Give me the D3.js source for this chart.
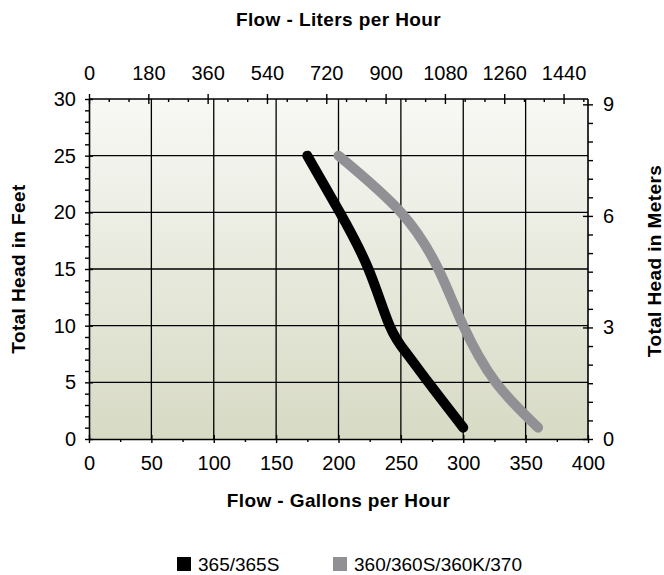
<!DOCTYPE html>
<html>
<head>
<meta charset="utf-8">
<script src="https://cdn.jsdelivr.net/npm/d3@7"></script>
<style>
  body { margin: 0; background: #fff; }
  text { font-family: "Liberation Sans", Arial, Helvetica, sans-serif; }
</style>
</head>
<body>
<div id="chart"></div>
<script>
// pump curves, flow in gallons per hour vs total head in feet
const series365 = [
  { gph: 175, ft: 25 }, { gph: 201, ft: 20 }, { gph: 224, ft: 15 },
  { gph: 241, ft: 10 }, { gph: 255, ft: 7.5 }, { gph: 272, ft: 5 }, { gph: 300, ft: 1 }
];
const series360 = [
  { gph: 200, ft: 25 }, { gph: 250, ft: 20 }, { gph: 280, ft: 15 },
  { gph: 300, ft: 10 }, { gph: 326, ft: 5 }, { gph: 360, ft: 1 }
];
const seriesNames = ["365/365S", "360/360S/360K/370"];
const seriesColors = ["#000000", "#919195"];

const gphTicks = [0, 50, 100, 150, 200, 250, 300, 350, 400];
const feetTicks = [0, 5, 10, 15, 20, 25, 30];
const literTicks = [0, 180, 360, 540, 720, 900, 1080, 1260, 1440];
const meterTicks = [0, 3, 6, 9];

const LITERS_PER_GAL = 3.78541;
const FEET_PER_M = 3.28084;

const W = 664, H = 575;
const margin = { top: 99, left: 89 };
const width = 499, height = 340;

const svg = d3.select("#chart").append("svg")
  .attr("width", W).attr("height", H);

const defs = svg.append("defs");
const grad = defs.append("linearGradient").attr("id", "bg")
  .attr("x1", 0).attr("y1", 0).attr("x2", 0).attr("y2", 1);
grad.append("stop").attr("offset", "0%").attr("stop-color", "#f8f8f5");
grad.append("stop").attr("offset", "100%").attr("stop-color", "#d7dac4");

const g = svg.append("g").attr("transform", `translate(${margin.left},${margin.top})`);

const x = d3.scaleLinear().domain([0, 400]).range([0, width]);
const y = d3.scaleLinear().domain([0, 30]).range([height, 0]);
const xL = d3.scaleLinear().domain([0, 400 * LITERS_PER_GAL]).range([0, width]);
const yM = d3.scaleLinear().domain([0, 30 / FEET_PER_M]).range([height, 0]);

g.append("rect").attr("width", width).attr("height", height).attr("fill", "url(#bg)");

// grid
g.append("g").selectAll("line").data(gphTicks.slice(1, -1)).join("line")
  .attr("x1", d => x(d)).attr("x2", d => x(d)).attr("y1", 0).attr("y2", height)
  .attr("stroke", "#000").attr("stroke-width", 1.3);
g.append("g").selectAll("line").data(feetTicks.slice(1, -1)).join("line")
  .attr("y1", d => y(d)).attr("y2", d => y(d)).attr("x1", 0).attr("x2", width)
  .attr("stroke", "#000").attr("stroke-width", 1.3);

// curves
const line = d3.line().x(d => x(d.gph)).y(d => y(d.ft)).curve(d3.curveNatural);
[series360, series365].forEach((s, i) => {
  g.append("path").datum(s)
    .attr("d", line)
    .attr("fill", "none")
    .attr("stroke", seriesColors[1 - i])
    .attr("stroke-width", 10)
    .attr("stroke-linecap", "round")
    .attr("stroke-linejoin", "round");
});

// axes
function styleAxis(sel, fontSize) {
  sel.select(".domain").attr("stroke", "#000").attr("stroke-width", 1.6);
  sel.selectAll(".tick line").attr("stroke", "#000").attr("stroke-width", 1.4);
  sel.selectAll(".tick text").attr("fill", "#000").style("font-size", fontSize + "px")
    .style("font-family", "Liberation Sans, Arial, sans-serif");
}
const range = (a, b, s) => d3.range(a, b + s / 2, s);

// bottom
g.append("g").attr("transform", `translate(0,${height})`)
  .call(d3.axisBottom(x).tickValues(range(25, 375, 50)).tickSize(3).tickFormat(""))
  .call(s => s.select(".domain").remove())
  .call(s => s.selectAll(".tick line").attr("stroke", "#000").attr("stroke-width", 1.4));
g.append("g").attr("transform", `translate(0,${height})`)
  .call(d3.axisBottom(x).tickValues(gphTicks).tickSize(4).tickSizeOuter(0).tickPadding(13))
  .call(s => styleAxis(s, 20))
  .call(s => s.selectAll(".tick line").attr("y1", -4));

// left
g.append("g")
  .call(d3.axisLeft(y).tickValues(d3.range(1, 30).filter(v => v % 5)).tickSize(4).tickFormat(""))
  .call(s => s.select(".domain").remove())
  .call(s => s.selectAll(".tick line").attr("stroke", "#000").attr("stroke-width", 1.4));
g.append("g")
  .call(d3.axisLeft(y).tickValues(feetTicks).tickSize(4).tickSizeOuter(0).tickPadding(9))
  .call(s => styleAxis(s, 20))
  .call(s => s.selectAll(".tick line").attr("x1", 4));

// top (liters)
g.append("g")
  .call(d3.axisTop(xL).tickValues(range(60, 1500, 60).filter(v => v % 180)).tickSize(-3).tickFormat(""))
  .call(s => s.select(".domain").remove())
  .call(s => s.selectAll(".tick line").attr("stroke", "#000").attr("stroke-width", 1.4));
g.append("g")
  .call(d3.axisTop(xL).tickValues(literTicks).tickFormat(d3.format("d"))
    .tickSize(5).tickSizeOuter(0).tickPadding(14))
  .call(s => styleAxis(s, 20))
  .call(s => s.select(".domain").attr("d", `M0,0H${width}`))
  .call(s => s.selectAll(".tick line").attr("y1", 5));

// right (meters)
g.append("g").attr("transform", `translate(${width},0)`)
  .call(d3.axisRight(yM).tickValues(range(0.5, 9, 0.5).filter(v => v % 3)).tickSize(5).tickFormat(""))
  .call(s => s.select(".domain").remove())
  .call(s => s.selectAll(".tick line").attr("stroke", "#000").attr("stroke-width", 1.4));
g.append("g").attr("transform", `translate(${width},0)`)
  .call(d3.axisRight(yM).tickValues(meterTicks).tickSize(5).tickSizeOuter(0).tickPadding(10))
  .call(s => styleAxis(s, 20))
  .call(s => s.select(".domain").attr("d", `M0,0V${height}`))
  .call(s => s.selectAll(".tick line").attr("x1", -5));

// axis titles
const titleStyle = sel => sel.attr("font-weight", "bold").attr("font-size", 19)
  .attr("letter-spacing", 0.4).attr("text-anchor", "middle").attr("fill", "#000");
svg.append("text").attr("x", margin.left + width / 2).attr("y", 26)
  .text("Flow - Liters per Hour").call(titleStyle);
svg.append("text").attr("x", margin.left + width / 2).attr("y", 507)
  .text("Flow - Gallons per Hour").call(titleStyle);
svg.append("text").attr("transform", `translate(25,${margin.top + height / 2}) rotate(-90)`)
  .text("Total Head in Feet").call(titleStyle);
svg.append("text").attr("transform", `translate(661,${margin.top + height / 2 - 8}) rotate(-90)`)
  .text("Total Head in Meters").call(titleStyle);

// legend
const legendX = [177, 333];
const legend = svg.append("g");
seriesNames.forEach((name, i) => {
  legend.append("rect").attr("x", legendX[i]).attr("y", 557)
    .attr("width", 14).attr("height", 14).attr("fill", seriesColors[i]);
  legend.append("text").attr("x", legendX[i] + 21).attr("y", 571)
    .attr("font-size", 19).attr("fill", "#000").text(name);
});
</script>
</body>
</html>
